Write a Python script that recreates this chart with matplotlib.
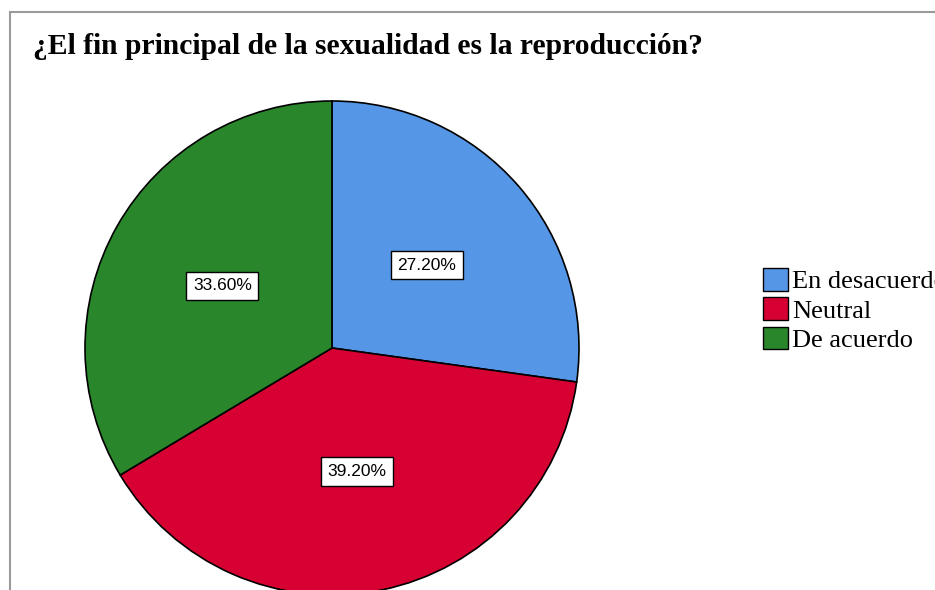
import matplotlib.pyplot as plt
from matplotlib.patches import Rectangle, Patch

categories = ["En desacuerdo", "Neutral", "De acuerdo"]
percentages = [27.2, 39.2, 33.6]
colors = ["#5596E6", "#D60032", "#29862A"]
title = "¿El fin principal de la sexualidad es la reproducción?"

W, H = 935, 590
fig = plt.figure(figsize=(W / 100, H / 100), dpi=100)
ax = fig.add_axes([0, 0, 1, 1])

# grey frame, open on the right and bottom edges
frame = Rectangle((10, -20), W + 50, H - 12 + 20, fill=False,
                  edgecolor="#9a9a9a", linewidth=1.5)
ax.add_patch(frame)

wedges, texts, autotexts = ax.pie(
    percentages,
    colors=colors,
    center=(332, H - 348),
    radius=247,
    startangle=90,
    counterclock=False,
    autopct=lambda p: f"{p:.2f}%",
    pctdistance=0.51,
    wedgeprops=dict(edgecolor="black", linewidth=1.2),
    frame=True,
)
ax.set_xlim(0, W)
ax.set_ylim(0, H)
ax.set_aspect("equal")
ax.axis("off")

for t in autotexts:
    t.set_fontfamily("Liberation Sans")
    t.set_fontsize(12.5)
    t.set_bbox(dict(boxstyle="square,pad=0.38", facecolor="white",
                    edgecolor="black", linewidth=1))

fig.text(33 / W, 1 - 46 / H, title, fontfamily="Liberation Serif",
         fontweight="bold", fontsize=21.3, va="center", ha="left")

# legend runs off the right edge, as in the original export
handles = [Patch(facecolor=c, edgecolor="black", linewidth=1) for c in colors]
fig.legend(handles, categories, loc="center left",
           bbox_to_anchor=(763 / W, 1 - 310 / H), frameon=False,
           prop={"family": "Liberation Serif", "size": 19},
           handlelength=0.95, handleheight=0.95, handletextpad=0.15,
           labelspacing=0.15, borderaxespad=0, borderpad=0)

fig.savefig("out.png", dpi=100)
